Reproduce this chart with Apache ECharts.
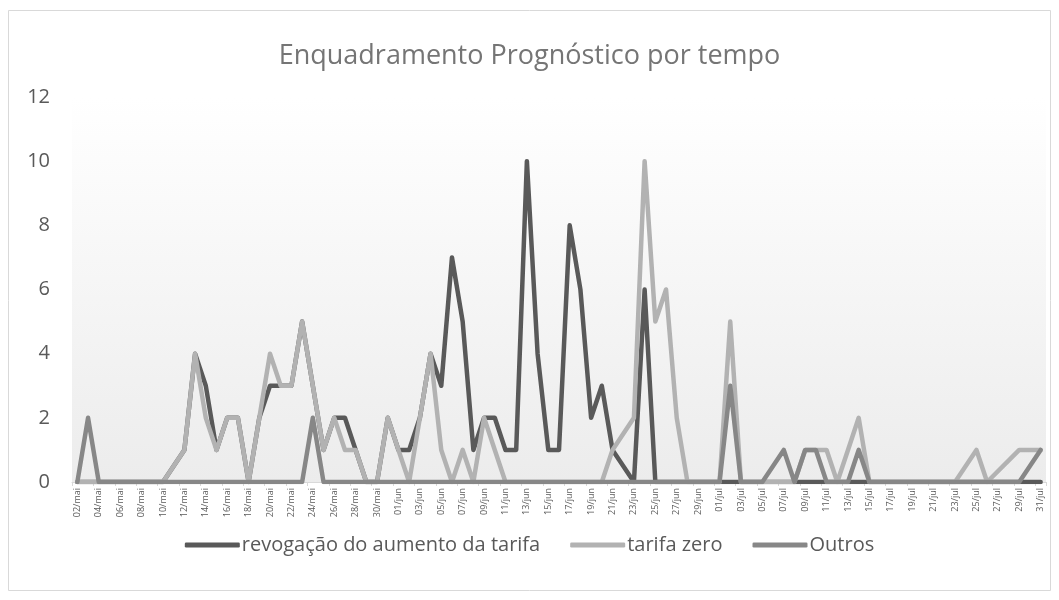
<!DOCTYPE html>
<html>
<head>
<meta charset="utf-8">
<script src="https://cdn.jsdelivr.net/npm/echarts@6/dist/echarts.min.js"></script>
<style>
  html, body { margin: 0; padding: 0; background: #fff; }
  #chart { width: 1059px; height: 600px; }
</style>
</head>
<body>
<div id="chart"></div>
<script>
const FONT = '"Open Sans", "Noto Sans", sans-serif';

// dias (02/mai a 31/jul)
const dias = [
  "02/mai","03/mai","04/mai","05/mai","06/mai","07/mai","08/mai","09/mai","10/mai","11/mai",
  "12/mai","13/mai","14/mai","15/mai","16/mai","17/mai","18/mai","19/mai","20/mai","21/mai",
  "22/mai","23/mai","24/mai","25/mai","26/mai","27/mai","28/mai","29/mai","30/mai","31/mai",
  "01/jun","02/jun","03/jun","04/jun","05/jun","06/jun","07/jun","08/jun","09/jun","10/jun",
  "11/jun","12/jun","13/jun","14/jun","15/jun","16/jun","17/jun","18/jun","19/jun","20/jun",
  "21/jun","22/jun","23/jun","24/jun","25/jun","26/jun","27/jun","28/jun","29/jun","30/jun",
  "01/jul","02/jul","03/jul","04/jul","05/jul","06/jul","07/jul","08/jul","09/jul","10/jul",
  "11/jul","12/jul","13/jul","14/jul","15/jul","16/jul","17/jul","18/jul","19/jul","20/jul",
  "21/jul","22/jul","23/jul","24/jul","25/jul","26/jul","27/jul","28/jul","29/jul","30/jul",
  "31/jul"
];

// null = dia sem registro (linha liga os pontos vizinhos)
const revogacao = [
  0,0,0,0,0,0,0,0,0,null,
  1,4,3,1,2,2,0,2,3,3,
  3,5,3,1,2,2,1,0,0,2,
  1,1,2,4,3,7,5,1,2,2,
  1,1,10,4,1,1,8,6,2,3,
  1,null,0,6,0,0,0,0,0,0,
  0,0,0,0,0,null,0,0,0,0,
  0,0,0,0,0,0,0,0,0,0,
  0,0,0,null,0,0,null,null,0,null,
  0
];

const tarifaZero = [
  0,0,0,0,0,0,0,0,0,null,
  1,4,2,1,2,2,0,2,4,3,
  3,5,3,1,2,1,1,0,0,2,
  1,0,2,4,1,0,1,0,2,1,
  0,0,0,0,0,0,0,0,0,0,
  1,null,2,10,5,6,2,0,0,0,
  0,5,0,0,0,null,0,0,1,1,
  1,0,1,2,0,0,0,0,0,0,
  0,0,0,null,1,0,null,null,1,null,
  1
];

const outros = [
  0,2,0,0,0,0,0,0,0,null,
  0,0,0,0,0,0,0,0,0,0,
  0,0,2,0,0,0,0,0,0,0,
  0,0,0,0,0,0,0,0,0,0,
  0,0,0,0,0,0,0,0,0,0,
  0,null,0,0,0,0,0,0,0,0,
  0,3,0,0,0,null,1,0,1,1,
  0,0,0,1,0,0,0,0,0,0,
  0,0,0,null,0,0,null,null,0,null,
  1
];

const yTicks = { min: 0, max: 12, interval: 2 };

const chart = echarts.init(document.getElementById("chart"));

function linha(name, data, color) {
  return {
    name: name,
    type: "line",
    data: data,
    connectNulls: true,
    symbol: "none",
    animation: false,
    lineStyle: { color: color, width: 4.5, cap: "round", join: "round" },
    itemStyle: { color: color },
  };
}

const option = {
  backgroundColor: "#fff",
  textStyle: { fontFamily: FONT },
  title: {
    text: "Enquadramento Prognóstico por tempo",
    left: "center",
    top: 38,
    textStyle: { fontFamily: FONT, fontSize: 27, fontWeight: "normal", color: "#757575" },
  },
  graphic: [
    {
      type: "rect",
      shape: { x: 8.5, y: 10.5, width: 1042, height: 580 },
      style: { fill: null, stroke: "#d9d9d9", lineWidth: 1 },
      silent: true,
    },
  ],
  legend: {
    bottom: 40,
    left: "center",
    itemWidth: 55,
    itemHeight: 5,
    itemGap: 30,
    icon: "roundRect",
    textStyle: { fontFamily: FONT, fontSize: 20, color: "#595959", padding: [0, 0, 0, -3] },
    data: ["revogação do aumento da tarifa", "tarifa zero", "Outros"],
  },
  grid: {
    left: 72,
    right: 13,
    top: 97,
    bottom: 118,
    show: true,
    borderWidth: 0,
    backgroundColor: {
      type: "linear",
      x: 0, y: 0, x2: 0, y2: 1,
      colorStops: [
        { offset: 0, color: "#ffffff" },
        { offset: 1, color: "#ececec" },
      ],
    },
  },
  xAxis: {
    type: "category",
    data: dias,
    boundaryGap: true,
    axisLine: { lineStyle: { color: "#d9d9d9", width: 1 } },
    axisTick: { show: true, interval: 1, length: 4, lineStyle: { color: "#d9d9d9" } },
    axisLabel: {
      interval: 1,
      rotate: 90,
      fontSize: 9,
      color: "#595959",
      margin: 6,
      fontFamily: FONT,
    },
    splitLine: { show: false },
  },
  yAxis: {
    type: "value",
    min: yTicks.min,
    max: yTicks.max,
    interval: yTicks.interval,
    axisLine: { show: false },
    axisTick: { show: false },
    splitLine: { show: false },
    axisLabel: { fontSize: 20, color: "#595959", margin: 22, fontFamily: FONT },
  },
  series: [
    linha("revogação do aumento da tarifa", revogacao, "#595959"),
    linha("tarifa zero", tarifaZero, "#b2b2b2"),
    linha("Outros", outros, "#878787"),
  ],
};

chart.setOption(option);
</script>
</body>
</html>
